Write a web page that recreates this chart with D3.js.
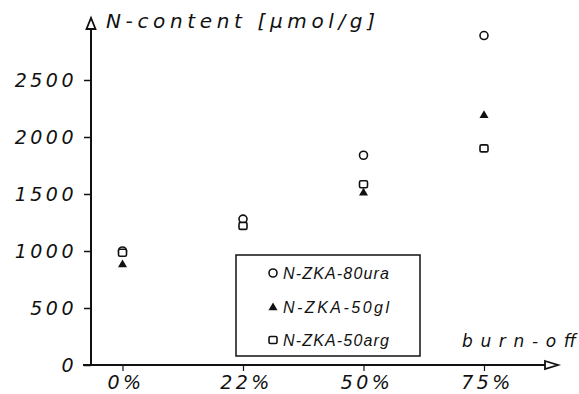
<!DOCTYPE html>
<html lang="en">
<head>
<meta charset="UTF-8">
<script src="https://d3js.org/d3.v7.min.js"></script>
<style>
    body { margin: 0; background: #fff; }
    svg { display: block; }
    text { font-family: "DejaVu Sans", sans-serif; font-style: italic; fill: #111; }
    .tick text { font-size: 19px; letter-spacing: 3.5px; }
    .legend text { font-family: "Liberation Sans", sans-serif; font-size: 16px; }
</style>
</head>
<body>
<div id="chart"></div>
<script>
    // burn-off levels and N-content [µmol/g]
    const categories = ["0%", "22%", "50%", "75%"];
    const ura80 = [1000, 1280, 1840, 2890];
    const gl50 = [890, 1245, 1520, 2200];
    const arg50 = [985, 1220, 1585, 1900];
    const yTicks = [0, 500, 1000, 1500, 2000, 2500];

    const seriesNames = ["N-ZKA-80ura", "N-ZKA-50gl", "N-ZKA-50arg"];
    const seriesShapes = ["circle", "triangle", "square"];
    const seriesValues = [ura80, gl50, arg50];

    const W = 579, H = 394;
    const ax = {x0: 91, y0: 365, left: 83, right: 558, top: 18};

    const svg = d3.select("#chart").append("svg")
        .attr("width", W).attr("height", H);

    const x = d3.scalePoint().domain(categories).range([122.5, 484]);
    const y = d3.scaleLinear().domain([0, 2500]).range([ax.y0, 80]);

    // y ticks
    const yAxis = svg.append("g")
        .attr("transform", `translate(${ax.x0},0)`)
        .call(d3.axisLeft(y).tickValues(yTicks).tickFormat(d3.format("d"))
            .tickSize(7).tickSizeOuter(0).tickPadding(9));
    yAxis.select(".domain").remove();
    yAxis.selectAll(".tick line").attr("stroke", "#111").attr("stroke-width", 1.5);
    yAxis.selectAll(".tick text").attr("dy", "0.36em").attr("dx", "2px");

    // x ticks
    const xAxis = svg.append("g")
        .attr("transform", `translate(0,${ax.y0})`)
        .call(d3.axisBottom(x).tickSize(6).tickSizeOuter(0).tickPadding(5));
    xAxis.select(".domain").remove();
    xAxis.selectAll(".tick line").attr("stroke", "#111").attr("stroke-width", 1.2);
    xAxis.selectAll(".tick text").attr("dx", "3px");

    // axis lines with open arrow heads
    svg.append("line")
        .attr("x1", ax.left).attr("x2", ax.right - 13)
        .attr("y1", ax.y0).attr("y2", ax.y0)
        .attr("stroke", "#111").attr("stroke-width", 2);
    svg.append("path")
        .attr("d", `M${ax.right - 13},${ax.y0 - 4}L${ax.right},${ax.y0}L${ax.right - 13},${ax.y0 + 4}Z`)
        .attr("fill", "#fff").attr("stroke", "#111").attr("stroke-width", 1.8);

    svg.append("line")
        .attr("x1", ax.x0).attr("x2", ax.x0)
        .attr("y1", ax.y0 + 1).attr("y2", ax.top + 11)
        .attr("stroke", "#111").attr("stroke-width", 2);
    svg.append("path")
        .attr("d", `M${ax.x0 - 4.5},${ax.top + 11}L${ax.x0},${ax.top}L${ax.x0 + 4.5},${ax.top + 11}Z`)
        .attr("fill", "#fff").attr("stroke", "#111").attr("stroke-width", 1.8);

    // axis titles
    svg.append("text")
        .attr("x", 106).attr("y", 28)
        .attr("font-size", 20)
        .attr("textLength", 269).attr("lengthAdjust", "spacing")
        .text("N-content [\u03bcmol/g]");

    svg.append("text")
        .attr("x", 462).attr("y", 347)
        .attr("font-size", 17)
        .attr("textLength", 114).attr("lengthAdjust", "spacing")
        .text("burn-off");

    function drawMarker(g, shape, cx, cy) {
        if (shape === "circle") {
            g.append("circle").attr("cx", cx).attr("cy", cy).attr("r", 4)
                .attr("fill", "#fff").attr("stroke", "#111").attr("stroke-width", 1.6);
        } else if (shape === "triangle") {
            g.append("path")
                .attr("d", `M${cx - 4.5},${cy + 3.8}L${cx},${cy - 4}L${cx + 4.5},${cy + 3.8}Z`)
                .attr("fill", "#111");
        } else {
            g.append("rect").attr("x", cx - 4).attr("y", cy - 3.5)
                .attr("width", 8).attr("height", 7).attr("rx", 1.5)
                .attr("fill", "#fff").attr("stroke", "#111").attr("stroke-width", 1.6);
        }
    }

    // points
    const pts = svg.append("g");
    [1, 0, 2].forEach(si => {
        seriesValues[si].forEach((v, i) => {
            drawMarker(pts, seriesShapes[si], x(categories[i]), y(v));
        });
    });

    // legend
    const lg = svg.append("g").attr("class", "legend");
    lg.append("rect")
        .attr("x", 236).attr("y", 255).attr("width", 184).attr("height", 101)
        .attr("fill", "#fff").attr("stroke", "#111").attr("stroke-width", 1.5);
    seriesNames.forEach((name, i) => {
        const cy = 273 + i * 33.5;
        drawMarker(lg, seriesShapes[i], 273, cy);
        lg.append("text")
            .attr("x", 283).attr("y", cy + 6)
            .attr("textLength", 106).attr("lengthAdjust", "spacing")
            .text(name);
    });
</script>
</body>
</html>
